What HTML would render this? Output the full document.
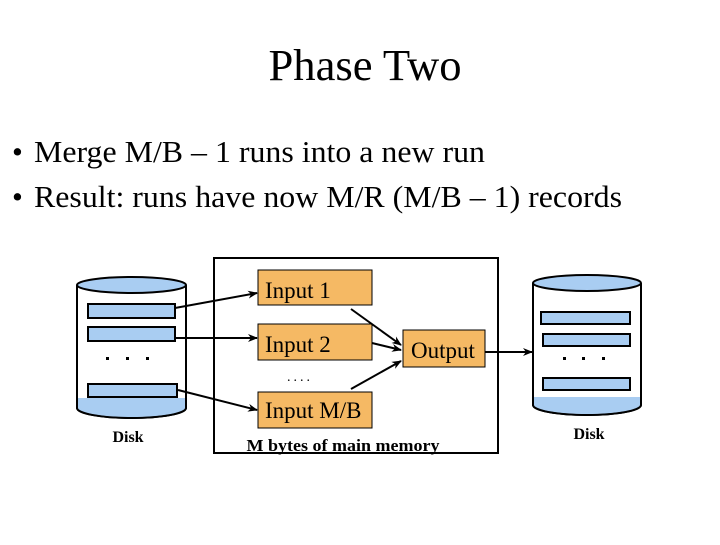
<!DOCTYPE html>
<html><head><style>
body{margin:0;width:720px;height:540px;background:#fff;overflow:hidden}
</style></head><body>
<svg width="720" height="540" xmlns="http://www.w3.org/2000/svg" font-family="Liberation Serif, serif">
<defs><marker id="a" markerWidth="10" markerHeight="8" refX="9" refY="4" orient="auto" markerUnits="userSpaceOnUse"><path d="M0,0 L10,4 L0,8 L3,4 z" fill="#000"/></marker></defs>
<text x="365" y="80" font-size="44" text-anchor="middle" textLength="193" lengthAdjust="spacingAndGlyphs">Phase Two</text>
<text x="12" y="162" font-size="31">•</text>
<text x="34" y="162" font-size="31" textLength="451" lengthAdjust="spacingAndGlyphs">Merge M/B – 1 runs into a new run</text>
<text x="12" y="207" font-size="31">•</text>
<text x="34" y="207" font-size="31" textLength="588" lengthAdjust="spacingAndGlyphs">Result: runs have now M/R (M/B – 1) records</text>
<!-- left disk -->
<path d="M77,285 L77,408 A54.5,10 0 0 0 186,408 L186,285" fill="#fff" stroke="#000" stroke-width="2"/>
<path d="M78,398 L185,398 L185,408 A53.5,9 0 0 1 78,408 z" fill="#a9cdf2"/>
<path d="M77,408 A54.5,10 0 0 0 186,408" fill="none" stroke="#000" stroke-width="2"/>
<ellipse cx="131.5" cy="285" rx="54.5" ry="8" fill="#a9cdf2" stroke="#000" stroke-width="2"/>
<rect x="88" y="304" width="87" height="14" fill="#a9cdf2" stroke="#000" stroke-width="2"/>
<rect x="88" y="327" width="87" height="14" fill="#a9cdf2" stroke="#000" stroke-width="2"/>
<rect x="88" y="384" width="89" height="13" fill="#a9cdf2" stroke="#000" stroke-width="2"/>
<rect x="106" y="357" width="3" height="3"/><rect x="126" y="357" width="3" height="3"/><rect x="146" y="357" width="3" height="3"/>
<text x="128" y="442" font-size="16" font-weight="bold" text-anchor="middle">Disk</text>
<!-- memory -->
<rect x="214" y="258" width="284" height="195" fill="none" stroke="#000" stroke-width="2"/>
<rect x="258" y="270" width="114" height="35" fill="#f5b964" stroke="#000" stroke-width="1"/>
<rect x="258" y="324" width="114" height="36" fill="#f5b964" stroke="#000" stroke-width="1"/>
<rect x="258" y="392" width="114" height="36" fill="#f5b964" stroke="#000" stroke-width="1"/>
<rect x="403" y="330" width="82" height="37" fill="#f5b964" stroke="#000" stroke-width="1"/>
<text x="265" y="298" font-size="23">Input 1</text>
<text x="265" y="352" font-size="23">Input 2</text>
<text x="265" y="418" font-size="23">Input M/B</text>
<text x="411" y="358" font-size="23">Output</text>
<text x="287" y="381" font-size="14" letter-spacing="3">....</text>
<text x="343" y="451" font-size="16.5" font-weight="bold" text-anchor="middle" textLength="193" lengthAdjust="spacingAndGlyphs">M bytes of main memory</text>
<!-- arrows -->
<g stroke="#000" stroke-width="2" fill="none" marker-end="url(#a)">
<line x1="175" y1="308" x2="257" y2="293"/>
<line x1="175" y1="338" x2="257" y2="338"/>
<line x1="178" y1="390" x2="257" y2="410"/>
<line x1="351" y1="309" x2="401" y2="345"/>
<line x1="372" y1="343" x2="401" y2="350"/>
<line x1="351" y1="389" x2="401" y2="361"/>
<line x1="485" y1="352" x2="532" y2="352"/>
</g>
<!-- right disk -->
<path d="M533,283 L533,405 A54,10 0 0 0 641,405 L641,283" fill="#fff" stroke="#000" stroke-width="2"/>
<path d="M534,397 L640,397 L640,405 A53,9 0 0 1 534,405 z" fill="#a9cdf2"/>
<path d="M533,405 A54,10 0 0 0 641,405" fill="none" stroke="#000" stroke-width="2"/>
<ellipse cx="587" cy="283" rx="54" ry="8" fill="#a9cdf2" stroke="#000" stroke-width="2"/>
<rect x="541" y="312" width="89" height="12" fill="#a9cdf2" stroke="#000" stroke-width="2"/>
<rect x="543" y="334" width="87" height="12" fill="#a9cdf2" stroke="#000" stroke-width="2"/>
<rect x="543" y="378" width="87" height="12" fill="#a9cdf2" stroke="#000" stroke-width="2"/>
<rect x="563" y="357" width="3" height="3"/><rect x="582" y="357" width="3" height="3"/><rect x="602" y="357" width="3" height="3"/>
<text x="589" y="439" font-size="16" font-weight="bold" text-anchor="middle">Disk</text>
</svg>
</body></html>
